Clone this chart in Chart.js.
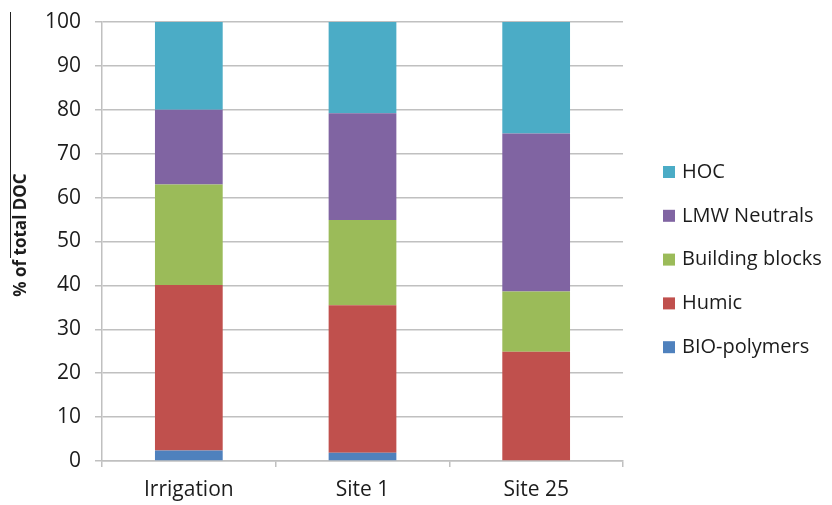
<!DOCTYPE html>
<html>
<head>
<meta charset="utf-8">
<script src="https://cdn.jsdelivr.net/npm/chart.js@4"></script>
<style>
  html, body { margin: 0; padding: 0; background: #ffffff; }
  #wrap { width: 832px; height: 505px; position: relative; }
</style>
</head>
<body>
<div id="wrap"><canvas id="c" width="832" height="505"></canvas></div>
<script>
// DOC fractions (% of total DOC) per sampling location
const categories = ['Irrigation', 'Site 1', 'Site 25'];
const bioPolymers    = [2.4, 1.9, 0];
const humic          = [37.7, 33.6, 24.9];
const buildingBlocks = [22.9, 19.4, 13.7];
const lmwNeutrals    = [17.0, 24.3, 36.0];
const hoc            = [20.0, 20.8, 25.4];
const yTicks = [0, 10, 20, 30, 40, 50, 60, 70, 80, 90, 100];
const yTitle = '% of total DOC';

const FONT = '"Open Sans", Lato, sans-serif';
const TEXT = '#1c1c1c';
const GRID = '#c0c0c0';

const series = [
  { label: 'BIO-polymers',    data: bioPolymers,    color: '#4F81BD' },
  { label: 'Humic',           data: humic,          color: '#C0504D' },
  { label: 'Building blocks', data: buildingBlocks, color: '#9BBB59' },
  { label: 'LMW Neutrals',    data: lmwNeutrals,    color: '#8064A2' },
  { label: 'HOC',             data: hoc,            color: '#4BACC6' }
];

// Legend on the right (top of stack first), rotated axis title, left rule
const decorations = {
  id: 'decorations',
  afterDraw(chart) {
    const ctx = chart.ctx;
    ctx.save();
    ctx.font = '20px ' + FONT;
    ctx.textBaseline = 'middle';
    ctx.textAlign = 'left';
    const items = chart.data.datasets.slice().reverse();
    const top = 172, step = 43.8;
    items.forEach((ds, i) => {
      const y = top + i * step;
      ctx.fillStyle = ds.backgroundColor;
      ctx.fillRect(663, y - 6, 12, 12);
      ctx.fillStyle = TEXT;
      ctx.fillText(ds.label, 682, y);
    });

    ctx.save();
    ctx.translate(21, 235);
    ctx.rotate(-Math.PI / 2);
    ctx.textAlign = 'center';
    ctx.font = 'bold 17px ' + FONT;
    ctx.fillText(yTitle, 0, 0);
    ctx.restore();

    ctx.strokeStyle = '#222';
    ctx.lineWidth = 1;
    ctx.beginPath();
    ctx.moveTo(10.5, 12);
    ctx.lineTo(10.5, 258);
    ctx.stroke();
    ctx.restore();
  }
};

new Chart(document.getElementById('c'), {
  type: 'bar',
  data: {
    labels: categories,
    datasets: series.map(s => ({
      label: s.label,
      data: s.data,
      backgroundColor: s.color,
      borderWidth: 0,
      barPercentage: 0.39,
      categoryPercentage: 1.0
    }))
  },
  options: {
    responsive: false,
    animation: false,
    layout: { padding: { top: 22, right: 209, left: 0, bottom: 0 } },
    plugins: {
      legend: { display: false },
      tooltip: { enabled: false }
    },
    scales: {
      x: {
        stacked: true,
        afterFit: s => { s.height = 44; s.paddingLeft = 0; s.paddingRight = 0; },
        grid: {
          offset: true,
          drawOnChartArea: false,
          drawTicks: true,
          tickLength: 6,
          color: GRID,
          lineWidth: 1.5
        },
        border: { color: GRID, width: 1.5 },
        ticks: {
          color: TEXT,
          font: { family: FONT, size: 21 },
          padding: 10,
          maxRotation: 0
        }
      },
      y: {
        stacked: true,
        min: 0,
        max: 100,
        afterFit: s => { s.width = 102; s.paddingTop = 0; s.paddingBottom = 0; },
        afterBuildTicks: s => { s.ticks = yTicks.map(v => ({ value: v })); },
        grid: {
          color: GRID,
          lineWidth: 1.5,
          tickLength: 7
        },
        border: { color: GRID, width: 1.5 },
        ticks: {
          color: TEXT,
          font: { family: FONT, size: 21 },
          padding: 14
        }
      }
    }
  },
  plugins: [decorations]
});
</script>
</body>
</html>
